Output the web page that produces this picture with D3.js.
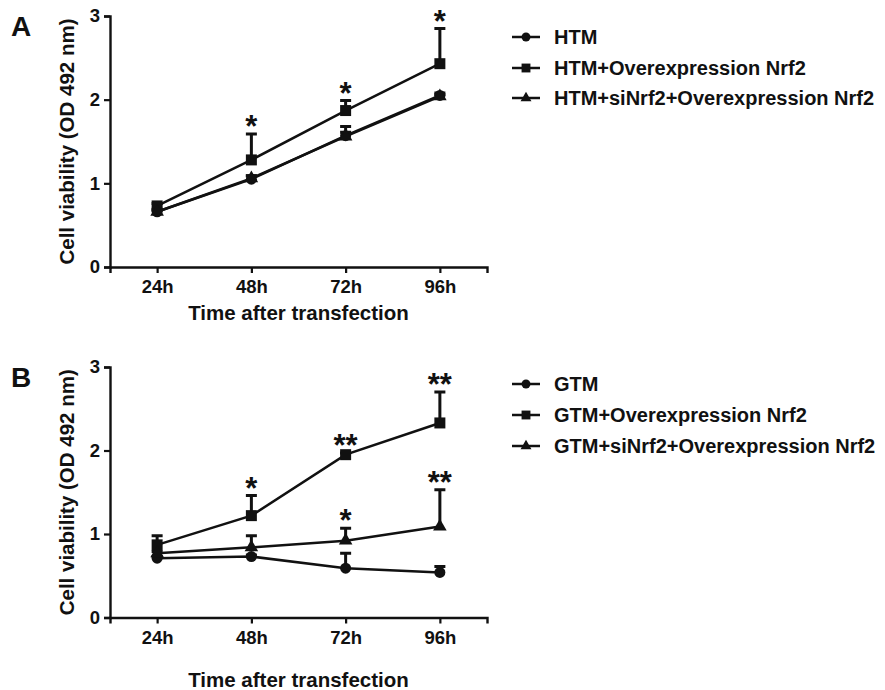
<!DOCTYPE html>
<html lang="en">
	<head>
		<meta charset="utf-8">
		<title>Cell viability after Nrf2 overexpression</title>
		<script type="text/javascript" src="https://cdn.jsdelivr.net/npm/d3@7"></script>
		<style>
			body { margin: 0; background: #fff; }
			svg text { font-family: "Liberation Sans", Arial, sans-serif; font-weight: bold; fill: #111; }
		</style>
	</head>
	<body>
		<svg></svg>
		<script type="text/javascript">
			// Values (OD 492 nm), mean and upper error
			var timePoints = ["24h", "48h", "72h", "96h"];
			var yTicks = [0, 1, 2, 3];

			var htmMean = [0.66, 1.05, 1.57, 2.05];
			var htmErr = [0.03, 0.04, 0.11, 0.03];
			var htmOeMean = [0.73, 1.28, 1.87, 2.43];
			var htmOeErr = [0.03, 0.31, 0.12, 0.42];
			var htmOeStars = ["", "*", "*", "*"];
			var htmSiMean = [0.66, 1.06, 1.56, 2.04];
			var htmSiErr = [0.02, 0.03, 0.05, 0.02];

			var gtmMean = [0.71, 0.73, 0.59, 0.54];
			var gtmErr = [0.02, 0.02, 0.18, 0.07];
			var gtmOeMean = [0.87, 1.22, 1.95, 2.33];
			var gtmOeErr = [0.11, 0.24, 0.02, 0.37];
			var gtmOeStars = ["", "*", "**", "**"];
			var gtmSiMean = [0.77, 0.84, 0.92, 1.09];
			var gtmSiErr = [0.02, 0.14, 0.15, 0.44];
			var gtmSiStars = ["", "", "*", "**"];

			var width = 885;
			var height = 690;

			var svg = d3.select("svg")
				.attr("width", width)
				.attr("height", height);

			var panels = [
				{
					letter: "A", top: 16, bottom: 267, titleY: 320,
					legendY: [37, 68, 98],
					series: [
						{ name: "HTM", mean: htmMean, err: htmErr, stars: null, shape: d3.symbolCircle, size: 95 },
						{ name: "HTM+Overexpression Nrf2", mean: htmOeMean, err: htmOeErr, stars: htmOeStars, shape: d3.symbolSquare, size: 121 },
						{ name: "HTM+siNrf2+Overexpression Nrf2", mean: htmSiMean, err: htmSiErr, stars: null, shape: d3.symbolTriangle, size: 80 }
					]
				},
				{
					letter: "B", top: 367, bottom: 617.5, titleY: 687,
					legendY: [384, 415, 446],
					series: [
						{ name: "GTM", mean: gtmMean, err: gtmErr, stars: null, shape: d3.symbolCircle, size: 95 },
						{ name: "GTM+Overexpression Nrf2", mean: gtmOeMean, err: gtmOeErr, stars: gtmOeStars, shape: d3.symbolSquare, size: 121 },
						{ name: "GTM+siNrf2+Overexpression Nrf2", mean: gtmSiMean, err: gtmSiErr, stars: gtmSiStars, shape: d3.symbolTriangle, size: 80 }
					]
				}
			];

			var left = 110;
			var right = 487;

			panels.forEach(function(p) {
				var g = svg.append("g");

				var x = d3.scalePoint()
					.domain(timePoints)
					.range([left, right])
					.padding(0.5);

				var y = d3.scaleLinear()
					.domain([0, 3])
					.range([p.bottom, p.top]);

				// axes
				var xAxis = g.append("g")
					.attr("transform", "translate(0," + p.bottom + ")")
					.call(d3.axisBottom(x).tickSizeOuter(0).tickSize(6).tickPadding(7));
				var yAxis = g.append("g")
					.attr("transform", "translate(" + left + ",0)")
					.call(d3.axisLeft(y).tickValues(yTicks).tickFormat(d3.format("d")).tickSizeOuter(0).tickSize(6).tickPadding(4));

				[xAxis, yAxis].forEach(function(a) {
					a.select(".domain").attr("stroke", "#111").attr("stroke-width", 2.4);
					a.selectAll(".tick line").attr("stroke", "#111").attr("stroke-width", 2.2);
					a.selectAll(".tick text").style("font-size", "18.5px");
				});

				g.append("text")
					.attr("x", (left + right) / 2)
					.attr("y", p.titleY)
					.attr("text-anchor", "middle")
					.style("font-size", "20.5px")
					.text("Time after transfection");

				g.append("text")
					.attr("transform", "translate(74," + (p.top + p.bottom) / 2 + ") rotate(-90)")
					.attr("text-anchor", "middle")
					.style("font-size", "20.5px")
					.text("Cell viability (OD 492 nm)");

				g.append("text")
					.attr("x", 11)
					.attr("y", p.top + 20)
					.style("font-size", "28px")
					.text(p.letter);

				p.series.forEach(function(s, i) {
					var pts = timePoints.map(function(t, k) {
						return { t: t, v: s.mean[k], e: s.err[k], star: s.stars ? s.stars[k] : "" };
					});

					// upward error bars
					g.selectAll(null)
						.data(pts)
						.enter()
						.append("path")
						.attr("d", function(d) {
							var cx = x(d.t), y0 = y(d.v), y1 = y(d.v + d.e);
							return "M" + cx + "," + y0 + "V" + y1 + "M" + (cx - 5.5) + "," + y1 + "H" + (cx + 5.5);
						})
						.attr("stroke", "#111")
						.attr("stroke-width", 3)
						.attr("fill", "none");

					g.append("path")
						.datum(pts)
						.attr("d", d3.line()
							.x(function(d) { return x(d.t); })
							.y(function(d) { return y(d.v); }))
						.attr("stroke", "#111")
						.attr("stroke-width", 2.5)
						.attr("fill", "none");

					g.selectAll(null)
						.data(pts)
						.enter()
						.append("path")
						.attr("transform", function(d) { return "translate(" + x(d.t) + "," + y(d.v) + ")"; })
						.attr("d", d3.symbol().type(s.shape).size(s.size))
						.attr("fill", "#111");

					g.selectAll(null)
						.data(pts.filter(function(d) { return d.star; }))
						.enter()
						.append("text")
						.attr("x", function(d) { return x(d.t); })
						.attr("y", function(d) { return y(d.v + d.e) + 3; })
						.attr("text-anchor", "middle")
						.style("font-size", "31px")
						.text(function(d) { return d.star; });

					// legend
					var ly = p.legendY[i];
					g.append("line")
						.attr("x1", 512).attr("x2", 540)
						.attr("y1", ly).attr("y2", ly)
						.attr("stroke", "#111")
						.attr("stroke-width", 2.5);
					g.append("path")
						.attr("transform", "translate(526," + ly + ")")
						.attr("d", d3.symbol().type(s.shape).size(s.size * 0.65))
						.attr("fill", "#111");
					g.append("text")
						.attr("x", 554)
						.attr("y", ly + 7)
						.style("font-size", "20px")
						.text(s.name);
				});
			});
		</script>
	</body>
</html>
